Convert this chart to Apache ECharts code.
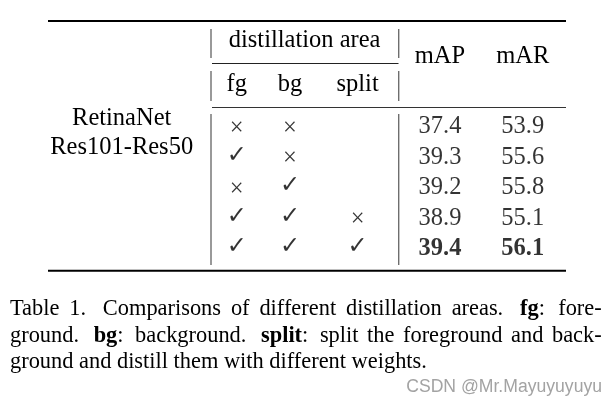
<!DOCTYPE html>
<html><head><meta charset="utf-8">
<script src="https://cdn.jsdelivr.net/npm/echarts@6/dist/echarts.min.js"></script>
<style>html,body{margin:0;padding:0;background:#fff}#c{width:616px;height:407px}</style>
</head><body><div id="c"></div>
<script>
// ---- data ----
const rowLabels = ['r1', 'r2', 'r3', 'r4', 'r5'];
const modelName = ['RetinaNet', 'Res101-Res50'];
const groupHeader = 'distillation area';
const columnHeaders = ['fg', 'bg', 'split', 'mAP', 'mAR'];
const fgUsed = [false, true, false, true, true];
const bgUsed = [false, false, true, true, true];
const splitUsed = [null, null, null, false, true];
const mAP = [37.4, 39.3, 39.2, 38.9, 39.4];
const mAR = [53.9, 55.6, 55.8, 55.1, 56.1];
const captionLines = [
  [['Table'], ['1.'], ['Comparisons'], ['of'], ['different'], ['distillation'], ['areas.'], ['fg', ':'], ['fore-']],
  [['ground.'], ['bg', ':'], ['background.'], ['split', ':'], ['split'], ['the'], ['foreground'], ['and'], ['back-']],
  [['ground'], ['and'], ['distill'], ['them'], ['with'], ['different'], ['weights.']]
];
const watermark = 'CSDN @Mr.Mayuyuyuyu';

// ---- layout ----
const SERIF = '"Liberation Serif","Times New Roman",serif';
const FS = 24.5;
const colX = {fg: 236.7, bg: 290, split: 357.6, mAP: 440, mAR: 522.8};

const chart = echarts.init(document.getElementById('c'), null, {renderer: 'canvas'});

function markSeries(name, arr) {
  return {
    type: 'scatter', name: name, symbolSize: 1, itemStyle: {color: 'transparent'},
    silent: true,
    data: arr.map((v, i) => v === null ? null : {value: [colX[name], rowLabels[i]], mark: v}).filter(d => d),
    label: {
      show: true, position: 'inside',
      formatter: p => p.data.mark ? '{ck|\u2713}' : '{cr|\u00d7}',
      rich: {
        ck: {fontFamily: '"DejaVu Sans"', fontSize: 24, color: '#000', fontWeight: 'bold', padding: [0, 0, 3, 0]},
        cr: {fontFamily: SERIF, fontSize: FS, color: '#000', padding: [3, 0, 0, 0]}
      }
    }
  };
}
function numSeries(name, arr) {
  const mx = Math.max.apply(null, arr);
  return {
    type: 'scatter', name: name, symbolSize: 1, itemStyle: {color: 'transparent'},
    silent: true,
    data: arr.map((v, i) => ({value: [colX[name], rowLabels[i]], num: v, best: v === mx})),
    label: {
      show: true, position: 'inside',
      formatter: p => (p.data.best ? '{b|' : '{n|') + p.data.num.toFixed(1) + '}',
      rich: {
        n: {fontFamily: SERIF, fontSize: FS, color: '#000'},
        b: {fontFamily: SERIF, fontSize: FS, color: '#000', fontWeight: 'bold'}
      }
    }
  };
}

// ---- graphic: header texts, rules, caption ----
const g = [];
function txt(t, x, y, font, align, fill) {
  g.push({type: 'text', silent: true, style: {text: t, x: x, y: y, font: font, fill: fill || '#000',
    textAlign: align || 'center', textVerticalAlign: 'middle'}});
}
function hline(x1, x2, y, w, c) {
  g.push({type: 'line', silent: true, shape: {x1: x1, y1: y, x2: x2, y2: y}, style: {stroke: c || '#000', lineWidth: w}});
}
function vline(x, y1, y2) {
  g.push({type: 'line', silent: true, shape: {x1: x, y1: y1, x2: x, y2: y2}, style: {stroke: '#6e6e6e', lineWidth: 1.4}});
}
const F = FS + 'px ' + SERIF;
txt(groupHeader, 304.6, 40.6, F);
txt(columnHeaders[0], colX.fg, 84.6, F);
txt(columnHeaders[1], colX.bg, 84.6, F);
txt(columnHeaders[2], colX.split, 84.6, F);
txt(columnHeaders[3], colX.mAP, 57, F);
txt(columnHeaders[4], colX.mAR, 57, F);
txt(modelName[0], 121.7, 118.6, F);
txt(modelName[1], 121.7, 148, F);

hline(48, 566, 21, 2);
hline(212, 398.5, 63.5, 1.2, '#222');
hline(212, 566, 107.5, 1, '#333');
hline(48, 566, 270.8, 2);
[211, 398.7].forEach(x => { vline(x, 29, 58); vline(x, 71, 101); vline(x, 114, 265); });

// caption (justified)
const CFS = 22.4;
const cctx = document.createElement('canvas').getContext('2d');
function wWidth(parts) {
  let w = 0;
  parts.forEach((p, k) => {
    const bold = parts.length > 1 && k === 0;
    cctx.font = (bold ? 'bold ' : '') + CFS + 'px ' + SERIF;
    w += cctx.measureText(p).width;
  });
  return w;
}
const capLeft = 10, capRight = 601.7;
const capY = [309.1, 335.8, 362.4];
cctx.font = CFS + 'px ' + SERIF;
const spaceW = cctx.measureText(' ').width;
captionLines.forEach((line, li) => {
  const widths = line.map(wWidth);
  const weights = line.slice(0, -1).map(parts => {
    const last = parts[parts.length - 1];
    return /\.$/.test(last) ? 1.7 : (/:$/.test(last) ? 1.35 : 1);
  });
  let unit;
  if (li < captionLines.length - 1) {
    const total = capRight - capLeft - widths.reduce((a, b) => a + b, 0);
    unit = total / weights.reduce((a, b) => a + b, 0);
  } else {
    unit = spaceW;
  }
  let x = capLeft;
  line.forEach((parts, k) => {
    if (parts.length > 1) {
      const text = '{b|' + parts[0] + '}{r|' + parts[1] + '}';
      g.push({type: 'text', silent: true, style: {text: text, x: x, y: capY[li], textAlign: 'left', textVerticalAlign: 'middle',
        rich: {b: {fontFamily: SERIF, fontSize: CFS, fontWeight: 'bold', fill: '#000'},
               r: {fontFamily: SERIF, fontSize: CFS, fill: '#000'}}}});
    } else {
      txt(parts[0], x, capY[li], CFS + 'px ' + SERIF, 'left');
    }
    x += widths[k] + (k < weights.length ? weights[k] * unit : 0);
  });
});
txt(watermark, 602, 387, '17.6px "Liberation Sans", Arial, sans-serif', 'right', '#a3a3a3');

chart.setOption({
  animation: false,
  backgroundColor: '#fff',
  grid: {left: 0, width: 616, top: 111.5, height: 152.5},
  xAxis: {type: 'value', min: 0, max: 616, show: false},
  yAxis: {type: 'category', data: rowLabels, inverse: true, show: false},
  series: [
    markSeries('fg', fgUsed),
    markSeries('bg', bgUsed),
    markSeries('split', splitUsed),
    numSeries('mAP', mAP),
    numSeries('mAR', mAR)
  ],
  graphic: {elements: g}
});
</script></body></html>
